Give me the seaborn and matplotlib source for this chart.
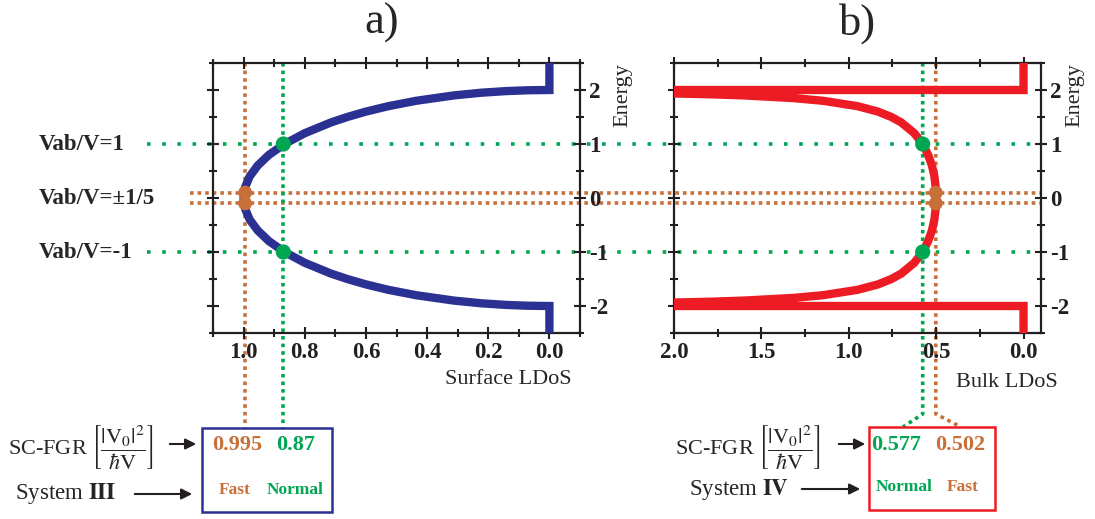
import matplotlib
matplotlib.use('Agg')
import matplotlib.pyplot as plt
import seaborn as sns
import pandas as pd
from matplotlib.transforms import blended_transform_factory as blend
from matplotlib.lines import Line2D
from matplotlib.patches import Rectangle, FancyArrowPatch
from matplotlib.ticker import MultipleLocator

# ---------------- data ----------------
surf_energy = [-2.5, -2.0, -1.995, -1.98, -1.95, -1.9, -1.8, -1.7, -1.6, -1.5, -1.4, -1.2,
               -1.0, -0.8, -0.6, -0.4, -0.2, 0.0, 0.2, 0.4, 0.6, 0.8, 1.0, 1.2, 1.4, 1.5,
               1.6, 1.7, 1.8, 1.9, 1.95, 1.98, 1.995, 2.0, 2.5]
surf_ldos = [0.0, 0.0, 0.071, 0.141, 0.222, 0.312, 0.436, 0.527, 0.600, 0.661, 0.714, 0.800,
             0.866, 0.917, 0.954, 0.980, 0.995, 1.000, 0.995, 0.980, 0.954, 0.917, 0.866, 0.800,
             0.714, 0.661, 0.600, 0.527, 0.436, 0.312, 0.222, 0.141, 0.071, 0.0, 0.0]

bulk_energy = [-2.5, -2.0, -2.0, -1.94, -1.92, -1.9, -1.85, -1.8, -1.7, -1.6, -1.5, -1.4, -1.2,
               -1.0, -0.8, -0.6, -0.4, -0.2, 0.0, 0.2, 0.4, 0.6, 0.8, 1.0, 1.2, 1.4, 1.5, 1.6,
               1.7, 1.8, 1.85, 1.9, 1.92, 1.94, 2.0, 2.0, 2.5]
bulk_ldos = [0.0, 0.0, 2.3, 2.057, 1.786, 1.601, 1.316, 1.147, 0.949, 0.833, 0.756, 0.700, 0.625,
             0.577, 0.546, 0.524, 0.510, 0.503, 0.500, 0.503, 0.510, 0.524, 0.546, 0.577, 0.625,
             0.700, 0.756, 0.833, 0.949, 1.147, 1.316, 1.601, 1.786, 2.057, 2.3, 0.0, 0.0]

green_levels = [1.0, -1.0]          # Vab/V = +-1
orange_levels = [0.1, -0.1]         # Vab/V = +-1/5
rate_a = {'fast': 0.995, 'normal': 0.87}
rate_b = {'fast': 0.502, 'normal': 0.577}

level_labels = ['Vab/V=1', 'Vab/V=\u00b11/5', 'Vab/V=-1']
level_label_E = [1.0, 0.0, -1.0]

xticks_a = [1.0, 0.8, 0.6, 0.4, 0.2, 0.0]
xticks_b = [2.0, 1.5, 1.0, 0.5, 0.0]
yticks = [-2, -1, 0, 1, 2]

# ---------------- style ----------------
sns.set_style('ticks')
plt.rcParams['font.family'] = ['Liberation Serif', 'DejaVu Serif']
plt.rcParams['mathtext.fontset'] = 'stix'
plt.rcParams['axes.unicode_minus'] = False

BLUE = '#2b3192'
RED = '#ed1c24'
GREEN = '#00a651'
ORANGE = '#c8703a'
BLACK = '#231f20'

W, H = 1095, 519
fig = plt.figure(figsize=(W / 100, H / 100), dpi=100)


def fx(px):
    return px / W


def fy(py):
    return 1 - py / H


ax_a = fig.add_axes([fx(213), fy(333), fx(580) - fx(213), fy(63) - fy(333)])
ax_b = fig.add_axes([fx(674), fy(333), fx(1041) - fx(674), fy(63) - fy(333)])

df_s = pd.DataFrame({'E': surf_energy, 'L': surf_ldos})
df_b = pd.DataFrame({'E': bulk_energy, 'L': bulk_ldos})
sns.lineplot(data=df_s, x='L', y='E', sort=False, estimator=None, color=BLUE, lw=6,
             ax=ax_a, zorder=3, solid_capstyle='butt', solid_joinstyle='miter')
sns.lineplot(data=df_b, x='L', y='E', sort=False, estimator=None, color=RED, lw=6,
             ax=ax_b, zorder=3, solid_capstyle='butt', solid_joinstyle='miter')

for ax, xt, xlim, minor in [(ax_a, xticks_a, (1.1, -0.1), 0.1), (ax_b, xticks_b, (2.0, -0.1), 0.25)]:
    ax.set_xlim(*xlim)
    ax.set_ylim(-2.5, 2.5)
    ax.set_xticks(xt)
    ax.set_xticklabels([f'{v:.1f}' for v in xt], fontweight='bold', fontsize=16.5)
    ax.xaxis.set_minor_locator(MultipleLocator(minor))
    ax.set_yticks(yticks)
    ax.set_yticklabels([str(v) for v in yticks], fontweight='bold', fontsize=16.5)
    ax.yaxis.set_minor_locator(MultipleLocator(0.5))
    ax.tick_params(axis='both', which='both', direction='inout', colors=BLACK, width=1.5,
                   top=True, bottom=True, left=True, right=True,
                   labelleft=False, labelright=True, labelbottom=True, labeltop=False)
    ax.tick_params(axis='both', which='major', length=9, pad=2)
    ax.tick_params(axis='both', which='minor', length=6)
    for sp in ax.spines.values():
        sp.set_visible(True)
        sp.set_linewidth(1.6)
        sp.set_color(BLACK)
    ax.set_facecolor('none')

# ---------------- markers ----------------
for ax, r in [(ax_a, rate_a), (ax_b, rate_b)]:
    mk_n = pd.DataFrame({'L': [r['normal']] * 2, 'E': green_levels})
    mk_f = pd.DataFrame({'L': [r['fast']] * 2, 'E': orange_levels})
    sns.scatterplot(data=mk_n, x='L', y='E', color=GREEN, s=120, edgecolor='none',
                    legend=False, ax=ax, zorder=5, clip_on=False)
    sns.scatterplot(data=mk_f, x='L', y='E', color=ORANGE, s=100, edgecolor='none',
                    legend=False, ax=ax, zorder=5, clip_on=False)
    ax.set_xlabel('')
    ax.set_ylabel('')

ax_a.text(0.978, -0.174, 'Surface LDoS', transform=ax_a.transAxes, ha='right', va='center', fontsize=16)
ax_b.text(1.046, -0.182, 'Bulk LDoS', transform=ax_b.transAxes, ha='right', va='center', fontsize=16)
ax_a.text(1.117, 1.0, 'Energy', transform=ax_a.transAxes, rotation=90, ha='center', va='top', fontsize=16)
ax_b.text(1.092, 1.0, 'Energy', transform=ax_b.transAxes, rotation=90, ha='center', va='top', fontsize=16)

fig.text(fx(382), fy(3), 'a)', fontsize=32, ha='center', va='top')
fig.text(fx(858), fy(3), 'b)', fontsize=32, ha='center', va='top')

# ---------------- dotted guide lines (behind the transparent axes) ----------------
tr_h = blend(fig.transFigure, ax_a.transData)
for E in green_levels:
    fig.add_artist(Line2D([fx(147), fx(1041)], [E, E], transform=tr_h, color=GREEN, lw=2.6,
                          dashes=(1, 3.2), zorder=-1))
for E in orange_levels:
    fig.add_artist(Line2D([fx(190), fx(1041)], [E, E], transform=tr_h, color=ORANGE, lw=2.6,
                          dashes=(1, 1.1), zorder=-1))

tr_va = blend(ax_a.transData, fig.transFigure)
for x, c in [(rate_a['fast'], ORANGE), (rate_a['normal'], GREEN)]:
    fig.add_artist(Line2D([x, x], [fy(63), fy(428)], transform=tr_va, color=c, lw=2.6,
                          dashes=(1, 1.1), zorder=-1))

fig.canvas.draw()
inv = fig.transFigure.inverted()


def data_to_figx(ax, x):
    return inv.transform(ax.transData.transform((x, 0)))[0]


for x, c, xend in [(rate_b['normal'], GREEN, 903), (rate_b['fast'], ORANGE, 961)]:
    xf = data_to_figx(ax_b, x)
    fig.add_artist(Line2D([xf, xf, fx(xend)], [fy(63), fy(414), fy(427)], transform=fig.transFigure,
                          color=c, lw=2.6, dashes=(1, 1.1), zorder=-1))

# ---------------- left labels ----------------
for lbl, E in zip(level_labels, level_label_E):
    fig.text(fx(39), E, lbl, transform=tr_h, ha='left', va='center', fontsize=16.5, fontweight='bold')

# ---------------- bottom boxes ----------------
expr = 'SC-FGR ' + r'$\left[\dfrac{|\mathrm{V}_0|^2}{\hbar\mathrm{V}}\right]$'


def arrow(x0, x1, y):
    fig.add_artist(FancyArrowPatch((fx(x0), fy(y)), (fx(x1), fy(y)), transform=fig.transFigure,
                                   arrowstyle='-|>', mutation_scale=16, lw=1.5, color=BLACK))


# panel a box
fig.add_artist(Rectangle((fx(202), fy(512)), fx(332) - fx(202), fy(428) - fy(512),
                         transform=fig.transFigure, fill=False, ec=BLUE, lw=1.8))
fig.text(fx(8), fy(447), expr, ha='left', va='center', fontsize=16)
arrow(167, 199, 444)
fig.text(fx(15), fy(494), r'System $\mathbf{III}$', ha='left', va='center', fontsize=16.5)
arrow(132, 195, 494)
fig.text(fx(237), fy(445), f"{rate_a['fast']:.3f}", color=ORANGE, ha='center', va='center',
         fontsize=16, fontweight='bold')
fig.text(fx(296), fy(445), f"{rate_a['normal']:.2f}", color=GREEN, ha='center', va='center',
         fontsize=16, fontweight='bold')
fig.text(fx(235), fy(490), 'Fast', color=ORANGE, ha='center', va='center', fontsize=12.5, fontweight='bold')
fig.text(fx(295), fy(490), 'Normal', color=GREEN, ha='center', va='center', fontsize=12.5, fontweight='bold')

# panel b box
fig.add_artist(Rectangle((fx(869), fy(510)), fx(995) - fx(869), fy(427) - fy(510),
                         transform=fig.transFigure, fill=False, ec=RED, lw=1.8))
fig.text(fx(675), fy(447), expr, ha='left', va='center', fontsize=16)
arrow(836, 868, 444)
fig.text(fx(689), fy(489), r'System $\mathbf{IV}$', ha='left', va='center', fontsize=16.5)
arrow(799, 863, 489)
fig.text(fx(896), fy(445), f"{rate_b['normal']:.3f}", color=GREEN, ha='center', va='center',
         fontsize=16, fontweight='bold')
fig.text(fx(960), fy(445), f"{rate_b['fast']:.3f}", color=ORANGE, ha='center', va='center',
         fontsize=16, fontweight='bold')
fig.text(fx(904), fy(487), 'Normal', color=GREEN, ha='center', va='center', fontsize=12.5, fontweight='bold')
fig.text(fx(963), fy(487), 'Fast', color=ORANGE, ha='center', va='center', fontsize=12.5, fontweight='bold')

fig.savefig('out.png', dpi=100, facecolor='white')
